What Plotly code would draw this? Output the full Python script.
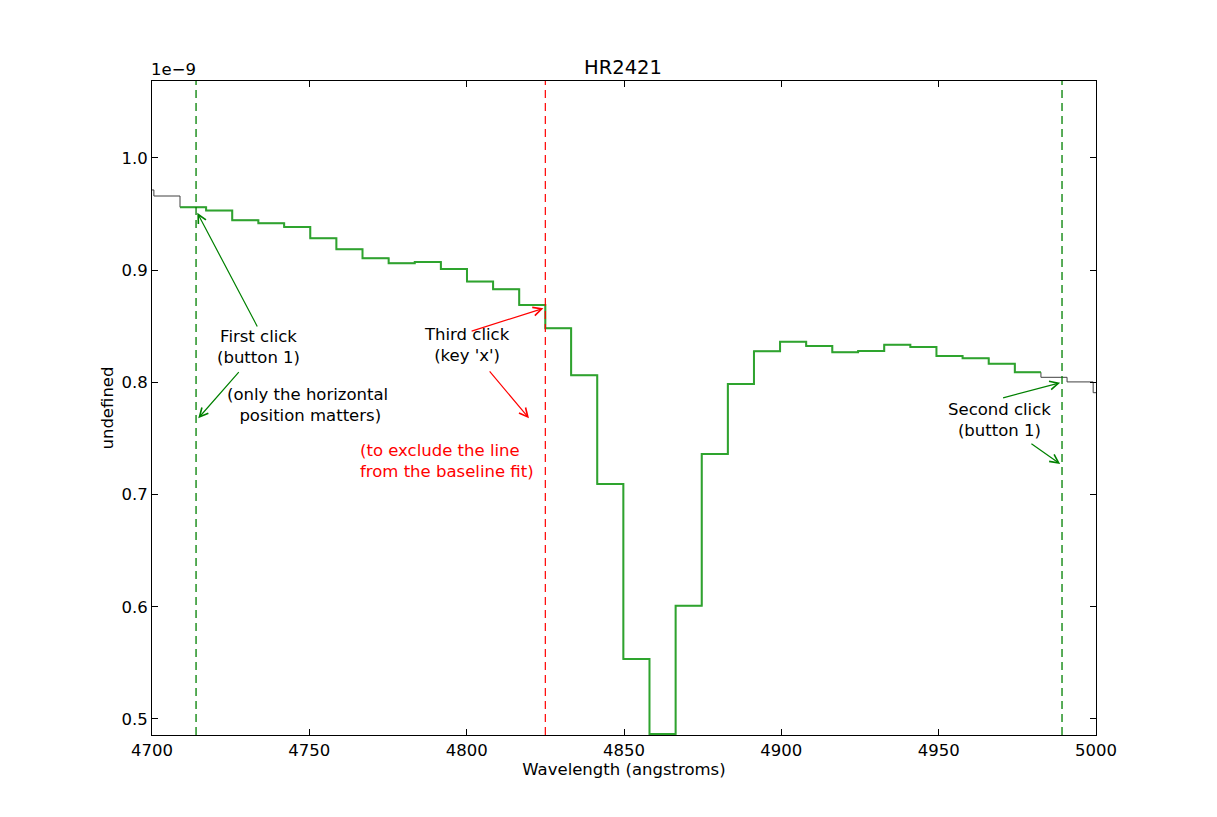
import plotly.graph_objects as go

# ---- data (flux in units of 1e-9) ----
bin_left_edges = [4692.3, 4700.6, 4708.9, 4717.2, 4725.5, 4733.8, 4742.0, 4750.3,
                  4758.6, 4766.9, 4775.2, 4783.5, 4791.8, 4800.1, 4808.4, 4816.7,
                  4825.0, 4833.2, 4841.5, 4849.8, 4858.1, 4866.4, 4874.7, 4883.0,
                  4891.3, 4899.6, 4907.9, 4916.2, 4924.4, 4932.7, 4941.0, 4949.3,
                  4957.6, 4965.9, 4974.2, 4982.5, 4990.8, 4999.1]
last_right_edge = 5007.4
flux = [0.9715, 0.9661, 0.9561, 0.9531, 0.9445, 0.9418, 0.9385, 0.9284,
        0.9186, 0.9106, 0.9062, 0.9073, 0.9011, 0.8898, 0.8830, 0.8690,
        0.8482, 0.8063, 0.7094, 0.5535, 0.4866, 0.6010, 0.7362, 0.7986,
        0.8277, 0.8363, 0.8324, 0.8268, 0.8280, 0.8336, 0.8316, 0.8235,
        0.8214, 0.8167, 0.8090, 0.8045, 0.8004, 0.7908]
flux_scale_label = "1e\u22129"
highlight_first_bin = 2
highlight_last_bin = 34

baseline_clicks = [4714.0, 4989.2]
exclude_click = [4825.0]

x_ticks = [4700, 4750, 4800, 4850, 4900, 4950, 5000]
y_ticks = [0.5, 0.6, 0.7, 0.8, 0.9, 1.0]
x_range = [4700, 5000]
y_range = [0.4857, 1.0686]

FONT = "DejaVu Sans"
GREEN = "#008000"
RED = "#ff0000"

edges = bin_left_edges + [last_right_edge]

fig = go.Figure()
# full spectrum (thin dark)
fig.add_trace(go.Scatter(
    x=edges, y=flux + [flux[-1]], mode="lines", line_shape="hv",
    line=dict(color="#404040", width=1), showlegend=False, hoverinfo="skip"))
# highlighted baseline region
i0, i1 = highlight_first_bin, highlight_last_bin
fig.add_trace(go.Scatter(
    x=edges[i0:i1 + 2], y=flux[i0:i1 + 1] + [flux[i1]], mode="lines", line_shape="hv",
    line=dict(color="#2ea42e", width=2), showlegend=False, hoverinfo="skip"))

shapes = []
for c in baseline_clicks:
    shapes.append(dict(type="line", xref="x", yref="paper", x0=c, x1=c, y0=0, y1=1,
                       line=dict(color=GREEN, width=1.3, dash="8px,5px")))
for c in exclude_click:
    shapes.append(dict(type="line", xref="x", yref="paper", x0=c, x1=c, y0=0, y1=1,
                       line=dict(color=RED, width=1.2, dash="8px,5px")))

annotations = []

def label(x, y, text, color="black", xanchor="center", align="center"):
    annotations.append(dict(x=x, y=y, xref="x", yref="y", text=text, showarrow=False,
                            xanchor=xanchor, yanchor="middle", align=align,
                            font=dict(family=FONT, size=16.5, color=color)))

def arrow(tail, head, color):
    annotations.append(dict(x=head[0], y=head[1], ax=tail[0], ay=tail[1],
                            xref="x", yref="y", axref="x", ayref="y", text="",
                            showarrow=True, arrowhead=5, arrowsize=1.4,
                            arrowwidth=1.2, arrowcolor=color, standoff=0))

label(4733.7, 0.8316, "First click<br>(button 1)")
label(4749.3, 0.7799, "(only the horizontal<br> position matters)")
label(4800.1, 0.8333, "Third click<br>(key 'x')")
label(4765.5, 0.7299, "(to exclude the line<br>from the baseline fit)", color=RED,
      xanchor="left", align="left")
label(4969.2, 0.7665, "Second click<br>(button 1)")

arrow((4733.7, 0.8485), (4714.4, 0.9512), GREEN)
arrow((4728.0, 0.8104), (4714.7, 0.7680), GREEN)
arrow((4801.1, 0.8452), (4824.4, 0.8660), RED)
arrow((4806.9, 0.8111), (4819.8, 0.7680), RED)
arrow((4970.0, 0.7858), (4988.6, 0.7997), GREEN)
arrow((4979.0, 0.7463), (4988.6, 0.7273), GREEN)

annotations.append(dict(x=0, y=1, xref="paper", yref="paper", text=flux_scale_label,
                        showarrow=False, xanchor="left", yanchor="bottom",
                        xshift=-3, yshift=0,
                        font=dict(family=FONT, size=16.5, color="black")))

axis_common = dict(showline=True, linecolor="black", linewidth=1, mirror="ticks",
                   ticks="inside", ticklen=6, tickcolor="black", tickwidth=1,
                   showgrid=False, zeroline=False,
                   tickfont=dict(family=FONT, size=16.5, color="black"))

fig.update_layout(
    width=1217, height=817,
    margin=dict(l=152, r=121, t=81, b=82, pad=0),
    paper_bgcolor="white", plot_bgcolor="white",
    title=dict(text="HR2421", x=623 / 1217, xanchor="center", xref="container",
               y=1 - 67 / 817, yanchor="middle", yref="container",
               font=dict(family=FONT, size=19.5, color="black")),
    xaxis=dict(range=x_range, tickvals=x_ticks, ticktext=[str(t) for t in x_ticks],
               title=dict(text="Wavelength (angstroms)", standoff=4,
                          font=dict(family=FONT, size=16.5, color="black")),
               **axis_common),
    yaxis=dict(range=y_range, tickvals=y_ticks, ticktext=["%.1f" % t for t in y_ticks],
               title=dict(text="undefined", standoff=3,
                          font=dict(family=FONT, size=16.5, color="black")),
               **axis_common),
    shapes=shapes,
    annotations=annotations,
    showlegend=False,
)

fig.write_html("out.html")
